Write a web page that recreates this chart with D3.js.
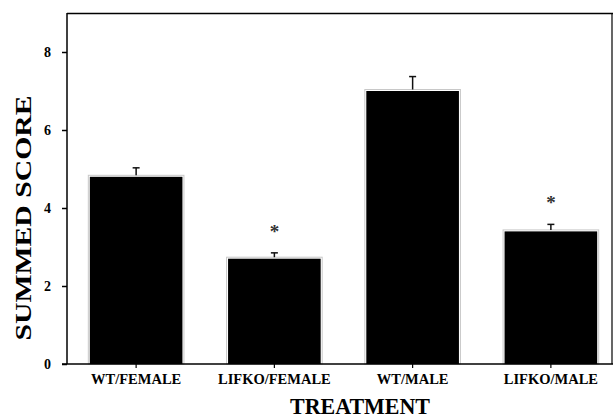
<!DOCTYPE html>
<html>
<head>
<meta charset="utf-8">
<script src="https://cdn.jsdelivr.net/npm/d3@7"></script>
<style>
  html, body { margin: 0; padding: 0; background: #fff; }
  svg { display: block; }
  text { font-family: "Liberation Serif", "Times New Roman", serif; font-weight: bold; fill: #000; }
</style>
</head>
<body>
<svg id="chart" width="613" height="420"></svg>
<script>
// Summed score by treatment group (mean with upper SEM bar)
const categories = ["WT/FEMALE", "LIFKO/FEMALE", "WT/MALE", "LIFKO/MALE"];
const means = [4.8, 2.7, 7.0, 3.4];
const errors = [0.23, 0.15, 0.37, 0.18];
const significant = [false, true, false, true];
const yTicks = [0, 2, 4, 6, 8];

const svg = d3.select("#chart");
const plotLeft = 67, plotRight = 613, plotTop = 13, plotBottom = 364;
const serif = '"Liberation Serif", "Times New Roman", serif';

const y = d3.scaleLinear().domain([0, 9]).range([plotBottom, plotTop]);
const x = d3.scaleBand().domain(categories).range([plotLeft, 620])
  .paddingInner(0.33).paddingOuter(0.165);

// Frame: top and right edges
svg.append("line").attr("x1", plotLeft).attr("x2", plotRight).attr("y1", plotTop + 0.5).attr("y2", plotTop + 0.5)
  .attr("stroke", "#000").attr("stroke-width", 1.5);
svg.append("line").attr("x1", 612).attr("x2", 612).attr("y1", plotTop).attr("y2", plotBottom)
  .attr("stroke", "#000").attr("stroke-width", 1.2);

// Bars: solid black fill with a faint grey outline just outside
svg.selectAll("rect.bar-edge").data(categories).join("rect")
  .attr("class", "bar-edge")
  .attr("x", d => x(d) - 1.5)
  .attr("width", x.bandwidth() + 3)
  .attr("y", (d, i) => y(means[i]) - 1.5)
  .attr("height", (d, i) => plotBottom - y(means[i]) + 1.5)
  .attr("fill", "none")
  .attr("stroke", "#c8c8c8").attr("stroke-width", 1);
svg.selectAll("rect.bar").data(categories).join("rect")
  .attr("class", "bar")
  .attr("x", d => x(d))
  .attr("width", x.bandwidth())
  .attr("y", (d, i) => y(means[i]))
  .attr("height", (d, i) => plotBottom - y(means[i]))
  .attr("fill", "#000");

// Error bars (upper only)
const eb = svg.selectAll("g.err").data(categories).join("g").attr("class", "err");
eb.append("line")
  .attr("x1", d => x(d) + x.bandwidth() / 2).attr("x2", d => x(d) + x.bandwidth() / 2)
  .attr("y1", (d, i) => y(means[i]) - 1.5).attr("y2", (d, i) => y(means[i] + errors[i]))
  .attr("stroke", "#111").attr("stroke-width", 1.5);
eb.append("line")
  .attr("x1", d => x(d) + x.bandwidth() / 2 - 3.5).attr("x2", d => x(d) + x.bandwidth() / 2 + 3.5)
  .attr("y1", (d, i) => y(means[i] + errors[i])).attr("y2", (d, i) => y(means[i] + errors[i]))
  .attr("stroke", "#111").attr("stroke-width", 1.5);

// Significance markers
svg.selectAll("text.sig").data(categories.filter((d, i) => significant[i])).join("text")
  .attr("class", "sig")
  .attr("x", d => x(d) + x.bandwidth() / 2)
  .attr("y", d => { const i = categories.indexOf(d); return y(means[i] + errors[i]) - 15; })
  .attr("text-anchor", "middle")
  .style("font-size", "19px")
  .style("fill", "#333")
  .text("*");

// Y axis
const yAxis = svg.append("g").attr("transform", `translate(${plotLeft},0)`)
  .call(d3.axisLeft(y).tickValues(yTicks).tickSize(5).tickPadding(11).tickFormat(d3.format("d")));
yAxis.attr("font-family", null).attr("font-size", null);
yAxis.select(".domain").attr("d", `M0,${plotTop}V${plotBottom}`).attr("stroke-width", 1.5);
yAxis.selectAll(".tick line").attr("stroke-width", 1.5);
yAxis.selectAll("text").style("font-size", "14px").style("font-family", serif).style("font-weight", "bold");

// X axis
const xAxis = svg.append("g").attr("transform", `translate(0,${plotBottom})`)
  .call(d3.axisBottom(x).tickSize(4).tickPadding(6));
xAxis.attr("font-family", null).attr("font-size", null);
xAxis.select(".domain").attr("d", `M${plotLeft - 5},0H${plotRight}`).attr("stroke-width", 1.5);
xAxis.selectAll(".tick line").attr("stroke-width", 1.2);
xAxis.selectAll("text").style("font-size", "14.5px").style("font-family", serif).style("font-weight", "bold");

// Axis titles
svg.append("text")
  .attr("transform", `translate(360,414) scale(1,1.08)`)
  .attr("text-anchor", "middle")
  .style("font-size", "22px")
  .text("TREATMENT");

svg.append("text")
  .attr("transform", `translate(31,218) rotate(-90)`)
  .attr("text-anchor", "middle")
  .attr("textLength", 245).attr("lengthAdjust", "spacingAndGlyphs")
  .style("font-size", "24px")
  .text("SUMMED SCORE");
</script>
</body>
</html>
